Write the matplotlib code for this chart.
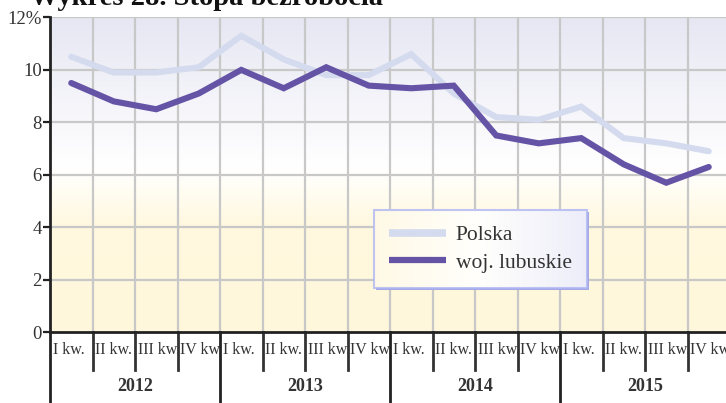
import numpy as np
import matplotlib
matplotlib.use("Agg")
import matplotlib.pyplot as plt
from matplotlib.colors import LinearSegmentedColormap
from matplotlib.transforms import Bbox, TransformedBbox
from matplotlib.patches import Rectangle

quarters = ["I kw.", "II kw.", "III kw.", "IV kw."]
years = ["2012", "2013", "2014", "2015"]
polska = [10.5, 9.9, 9.9, 10.1, 11.3, 10.4, 9.8, 9.8,
          10.6, 9.1, 8.2, 8.1, 8.6, 7.4, 7.2, 6.9]
lubuskie = [9.5, 8.8, 8.5, 9.1, 10.0, 9.3, 10.1, 9.4,
            9.3, 9.4, 7.5, 7.2, 7.4, 6.4, 5.7, 6.3]
yticks = [0, 2, 4, 6, 8, 10, 12]
ytick_labels = ["0", "2", "4", "6", "8", "10", "12%"]
title = "Wykres 28. Stopa bezrobocia"

W, H = 726, 403
fig = plt.figure(figsize=(W / 100, H / 100), dpi=100)
fig.patch.set_facecolor("white")

left_px, right_px, top_px, bot_px = 50, 730, 17.4, 332.3
ax = fig.add_axes([left_px / W, 1 - bot_px / H, (right_px - left_px) / W, (bot_px - top_px) / H])

n = len(polska)
ax.set_xlim(0, n)
ax.set_ylim(0, 12)

# background gradient
cmap = LinearSegmentedColormap.from_list("bg", [
    (0.0, (1.0, 0.970, 0.860)),
    (4.0 / 12, (1.0, 0.975, 0.875)),
    (6.3 / 12, (1.0, 1.0, 1.0)),
    (1.0, (0.905, 0.905, 0.955)),
])
grad = np.linspace(0, 1, 256).reshape(-1, 1)
ax.imshow(grad, extent=[0, n, 0, 12], origin="lower", aspect="auto", cmap=cmap, zorder=0)

# grid
for xv in range(1, n + 1):
    ax.axvline(xv, color="#c8c8c8", lw=1.6, zorder=1)
for yv in yticks[1:]:
    ax.axhline(yv, color="#c8c8c8", lw=1.6, zorder=1)

x = np.arange(n) + 0.5
ax.plot(x, polska, color="#d5dbee", lw=4.4, solid_capstyle="round", solid_joinstyle="miter", zorder=3, label="Polska")
ax.plot(x, lubuskie, color="#6554a6", lw=4.4, solid_capstyle="round", solid_joinstyle="miter", zorder=4, label="woj. lubuskie")

for s in ["top", "right"]:
    ax.spines[s].set_visible(False)
ax.spines["left"].set_color("#222222")
ax.spines["left"].set_linewidth(2.0)
ax.spines["bottom"].set_color("#222222")
ax.spines["bottom"].set_linewidth(2.0)
ax.spines["left"].set_zorder(6)
ax.spines["bottom"].set_zorder(6)

ax.set_yticks(yticks)
ax.set_yticklabels(ytick_labels, fontfamily="Liberation Serif", fontsize=13.5, color="#333333")
ax.tick_params(axis="y", length=5, width=1.6, color="#222222", pad=1)
ax.set_xticks([])

trans = ax.get_xaxis_transform()
ax_h = bot_px - top_px
# quarter ticks and labels
for i in range(n):
    if i % 4 == 0:
        ax.plot([i, i], [0, -(H - bot_px + 5) / ax_h], transform=trans, color="#222222", lw=2.0, clip_on=False, zorder=6)
    else:
        ax.plot([i, i], [0, -38 / ax_h], transform=trans, color="#333333", lw=2.0, clip_on=False, zorder=6)
    t = ax.text(i + 0.06, -18 / ax_h, quarters[i % 4], transform=trans, ha="left", va="center",
                fontfamily="Liberation Serif", fontsize=11.5, color="#333333")
    t.set_clip_box(TransformedBbox(Bbox([[i, -0.2], [i + 1, 0]]), trans))
    t.set_clip_on(True)
for j, yr in enumerate(years):
    ax.text(j * 4 + 2, -54 / ax_h, yr, transform=trans, ha="center", va="center",
            fontfamily="Liberation Serif", fontweight="bold", fontsize=13, color="#333333")

fig.text(30 / W, 1 - 5 / H, title, ha="left", va="baseline", fontfamily="Liberation Serif",
         fontweight="bold", fontsize=20.5, color="#111111")

leg = ax.legend(loc="upper left", bbox_to_anchor=((374 - left_px) / (right_px - left_px), (bot_px - 210) / ax_h),
                borderaxespad=0, frameon=True, fancybox=False, shadow=False,
                prop={"family": "Liberation Serif", "size": 15.5},
                handlelength=2.65, handletextpad=0.45, labelspacing=0.36, borderpad=0.7)
leg.get_frame().set_facecolor("none")
leg.get_frame().set_edgecolor("#b0b6f2")
leg.get_frame().set_linewidth(1.5)
for t in leg.get_texts():
    t.set_color("#333333")
for l, w in zip(leg.get_lines(), [5.5, 4.5]):
    l.set_linewidth(w)
    l.set_solid_capstyle("butt")
leg.set_zorder(10)

# gradient fill and shadow behind legend box
fig.canvas.draw()
bb = leg.get_frame().get_window_extent().transformed(ax.transData.inverted())
dx = 2.2 * n / (right_px - left_px)
dy = 2.2 * 12 / ax_h
ax.add_patch(Rectangle((bb.x0 + dx, bb.y0 - dy), bb.width, bb.height, facecolor="#a4a8e4",
                       edgecolor="none", zorder=9.3, clip_on=False))
lcmap = LinearSegmentedColormap.from_list("lg", [(1.0, 0.975, 0.90), (1.0, 1.0, 0.99), (0.93, 0.93, 0.98)])
ax.imshow(np.linspace(0, 1, 256).reshape(1, -1), extent=[bb.x0, bb.x1, bb.y0, bb.y1],
          aspect="auto", cmap=lcmap, zorder=9.5)
ax.set_xlim(0, n)
ax.set_ylim(0, 12)

fig.savefig("out.png", dpi=100)
